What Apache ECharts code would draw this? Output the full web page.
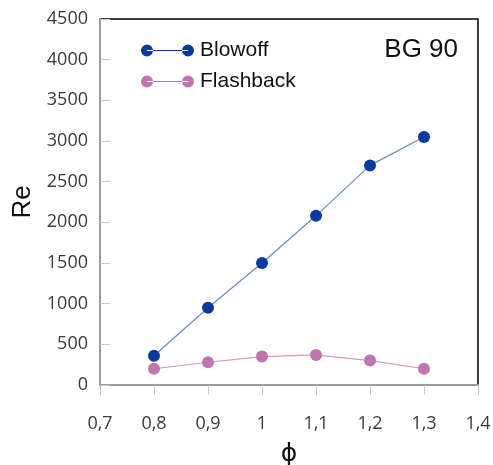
<!DOCTYPE html>
<html><head><meta charset="utf-8">
<script src="https://cdn.jsdelivr.net/npm/echarts@6/dist/echarts.min.js"></script>
<style>html,body{margin:0;padding:0;background:#fff}#c{width:493px;height:465px}</style>
</head><body><div id="c"></div>
<script>
var phi = [0.8, 0.9, 1.0, 1.1, 1.2, 1.3];
var blowoff = [360, 950, 1500, 2080, 2700, 3050];
var flashback = [200, 280, 350, 370, 300, 200];
var seriesNames = ['Blowoff', 'Flashback'];
var chartLabel = 'BG 90';

function pairs(xs, ys){ return xs.map(function(x,i){ return [x, ys[i]]; }); }
var legendIcon = 'path://M0,6a6,6 0 1,0 12,0a6,6 0 1,0 -12,0ZM6,5.4L47,5.4L47,6.6L6,6.6ZM41,6a6,6 0 1,0 12,0a6,6 0 1,0 -12,0Z';

var chart = echarts.init(document.getElementById('c'), null, {renderer:'canvas'});
chart.setOption({
  animation: false,
  backgroundColor: '#fff',
  grid: {left: 100, right: 15, top: 19, bottom: 80, show: true, borderColor: '#000', borderWidth: 1.5,
         containLabel: false, outerBoundsMode: 'none'},
  legend: {
    left: 136, top: 35, orient: 'vertical', itemWidth: 53, itemHeight: 12, itemGap: 10,
    textStyle: {fontFamily: 'Liberation Sans, Arial', fontSize: 21, color: '#111', padding: [0,0,0,1]},
    data: [
      {name: seriesNames[0], icon: legendIcon, itemStyle: {color: '#0a3a9e'}},
      {name: seriesNames[1], icon: legendIcon, itemStyle: {color: '#c274ac'}}
    ]
  },
  graphic: [{
    type: 'text', right: 35, top: 37,
    style: {text: chartLabel, fontFamily: 'Liberation Sans, Arial', fontSize: 26, fill: '#111'}
  }],
  xAxis: {
    type: 'value', min: 0.7, max: 1.4, interval: 0.1,
    name: 'ϕ', nameLocation: 'middle', nameGap: 57,
    nameTextStyle: {fontFamily: 'DejaVu Sans', fontSize: 25, color: '#111'},
    axisLine: {show: true, onZero: false, lineStyle: {color: '#9a9a9a', width: 2}},
    axisTick: {show: true, inside: false, length: 10, lineStyle: {color: '#c8c8c8', width: 1}},
    splitLine: {show: false},
    axisLabel: {margin: 30, fontFamily: 'Open Sans, Noto Sans', fontSize: 18, color: '#3a3a3a',
      formatter: function(v){ return String(Math.round(v*10)/10).replace('.', ','); }}
  },
  yAxis: {
    type: 'value', min: 0, max: 4500, interval: 500,
    name: 'Re', nameLocation: 'middle', nameGap: 60, nameRotate: 90,
    nameTextStyle: {fontFamily: 'Liberation Sans, Arial', fontSize: 26, color: '#111'},
    axisLine: {show: true, lineStyle: {color: '#9a9a9a', width: 2}},
    axisTick: {show: true, inside: true, length: 10, lineStyle: {color: '#c8c8c8', width: 1}},
    splitLine: {show: false},
    axisLabel: {margin: 12, fontFamily: 'Open Sans, Noto Sans', fontSize: 18, color: '#3a3a3a',
      formatter: function(v){ return String(v); }}
  },
  series: [
    {name: seriesNames[0], type: 'line', data: pairs(phi, blowoff), symbol: 'circle', symbolSize: 12,
     itemStyle: {color: '#0a3a9e'}, lineStyle: {color: '#6b8ac4', width: 1.2}},
    {name: seriesNames[1], type: 'line', data: pairs(phi, flashback), symbol: 'circle', symbolSize: 12,
     itemStyle: {color: '#c274ac'}, lineStyle: {color: '#cf98c0', width: 1.2}}
  ]
});
</script></body></html>
